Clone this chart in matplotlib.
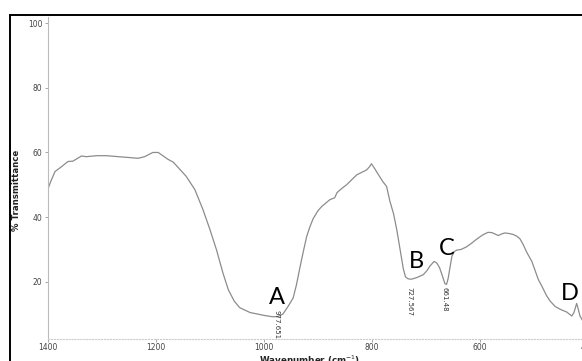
import matplotlib
matplotlib.use('Agg')
import matplotlib.pyplot as plt
from matplotlib.lines import Line2D

# --- DATA ---
wavenumber = [1402, 1395, 1387, 1375, 1363, 1354, 1338, 1329, 1310, 1292, 1255, 1233,
              1221, 1206, 1196, 1178, 1168, 1144, 1128, 1113, 1100, 1088, 1076, 1066,
              1055, 1045, 1026, 1000, 985, 975, 965, 955, 946, 940, 933, 927, 921, 915,
              909, 900, 893, 878, 869, 865, 862, 855, 847, 838, 828, 816, 810, 805, 801,
              795, 788, 780, 773, 767, 760, 754, 748, 742, 738, 733, 727, 717, 705, 698,
              693, 685, 680, 675, 670, 665, 662, 659, 655, 652, 648, 643, 635, 625, 615,
              606, 595, 585, 578, 570, 566, 560, 554, 545, 538, 532, 526, 520, 513, 504,
              498, 492, 485, 477, 470, 461, 455, 449, 443, 439, 433, 430, 426, 421, 418,
              415, 410]
transmittance = [47.9, 51.0, 54.1, 55.6, 57.2, 57.3, 58.9, 58.7, 59.0, 59.0, 58.5, 58.2,
                 58.7, 60.0, 60.0, 57.9, 57.0, 52.6, 48.5, 42.3, 36.1, 29.9, 22.7, 17.5,
                 14.0, 12.0, 10.5, 9.6, 9.2, 9.2, 10.0, 12.5, 15.0, 19.0, 24.8, 29.5, 34.0, 37.0,
                 39.5, 42.0, 43.3, 45.4, 46.0, 47.5, 48.0, 49.0, 50.0, 51.5, 53.1, 54.1, 54.6, 55.5, 56.5,
                 55.0, 53.1, 51.0, 49.5, 45.0, 41.0, 36.0, 30.0, 24.0, 21.5, 20.9, 20.8, 21.3, 22.2, 23.5,
                 24.8, 26.3, 25.8, 24.4, 22.0, 19.4, 19.2, 21.0, 25.0, 27.9, 29.3, 29.8, 30.0, 30.8, 32.0,
                 33.2, 34.5, 35.3, 35.2, 34.6, 34.3, 34.8, 35.1, 34.9, 34.6, 34.1, 33.3, 31.5, 29.0, 26.3,
                 23.5, 20.7, 18.5, 15.8, 14.0, 12.4, 11.8, 11.3, 10.9, 10.6, 9.8, 9.4, 10.5, 13.3, 11.5,
                 9.5, 8.0]

x_ticks = [1400, 1200, 1000, 800, 600, 400]
y_ticks = [20, 40, 60, 80, 100]

# peak letters, placed by their baseline
peak_letters = ['A', 'B', 'C', 'D']
letter_x = [976, 718, 662, 434]
letter_y = [13.0, 24.4, 28.4, 14.5]

peak_labels = ['977.651', '727.567', '661.48']
peak_label_x = [976, 730, 665]
peak_label_y = [6.8, 13.9, 14.7]

# --- FIGURE ---
fig = plt.figure(figsize=(5.82, 3.61), dpi=100)
ax = fig.add_axes([48 / 582, 1 - 339 / 361, 540 / 582, (339 - 17) / 361])

ax.plot(wavenumber, transmittance, color='#8c8c8c', linewidth=0.9)

ax.set_xlim(1400, 400)
ax.set_ylim(2.3, 101.9)
ax.set_xticks(x_ticks)
ax.set_yticks(y_ticks)
ax.tick_params(labelsize=5.5, colors='#999999', labelcolor='#444444', length=2, width=0.6, pad=2)
ax.tick_params(axis='x', pad=1.2)

for side in ['top', 'right']:
    ax.spines[side].set_visible(False)
ax.spines['left'].set_color('#bbbbbb')
ax.spines['left'].set_linewidth(0.8)
ax.spines['bottom'].set_color('#cccccc')
ax.spines['bottom'].set_linestyle(':')
ax.spines['bottom'].set_linewidth(0.8)

for s, x, y in zip(peak_letters, letter_x, letter_y):
    ax.text(x, y, s, fontsize=17, family='Lato', ha='center', va='baseline', color='black')

for s, x, y in zip(peak_labels, peak_label_x, peak_label_y):
    ax.text(x, y, s, fontsize=5, rotation=-90, ha='center', va='center', color='#333333')

# axis titles as in the scan
fig.text(17 / 582, 1 - 190 / 361, '% Transmittance', rotation=90, fontsize=6.2,
         fontweight='bold', ha='center', va='center', color='#222222')
fig.text(310 / 582, 1 - 354 / 361, 'Wavenumber (cm$^{-1}$)', fontsize=6.3,
         fontweight='bold', ha='center', va='top', color='#222222')

# black frame from the scanned page
fig.add_artist(Line2D([10 / 582, 1], [1 - 15 / 361] * 2, color='black', linewidth=1.4))
fig.add_artist(Line2D([10 / 582] * 2, [0, 1 - 15 / 361], color='black', linewidth=1.4))

fig.savefig('out.png', dpi=100)
